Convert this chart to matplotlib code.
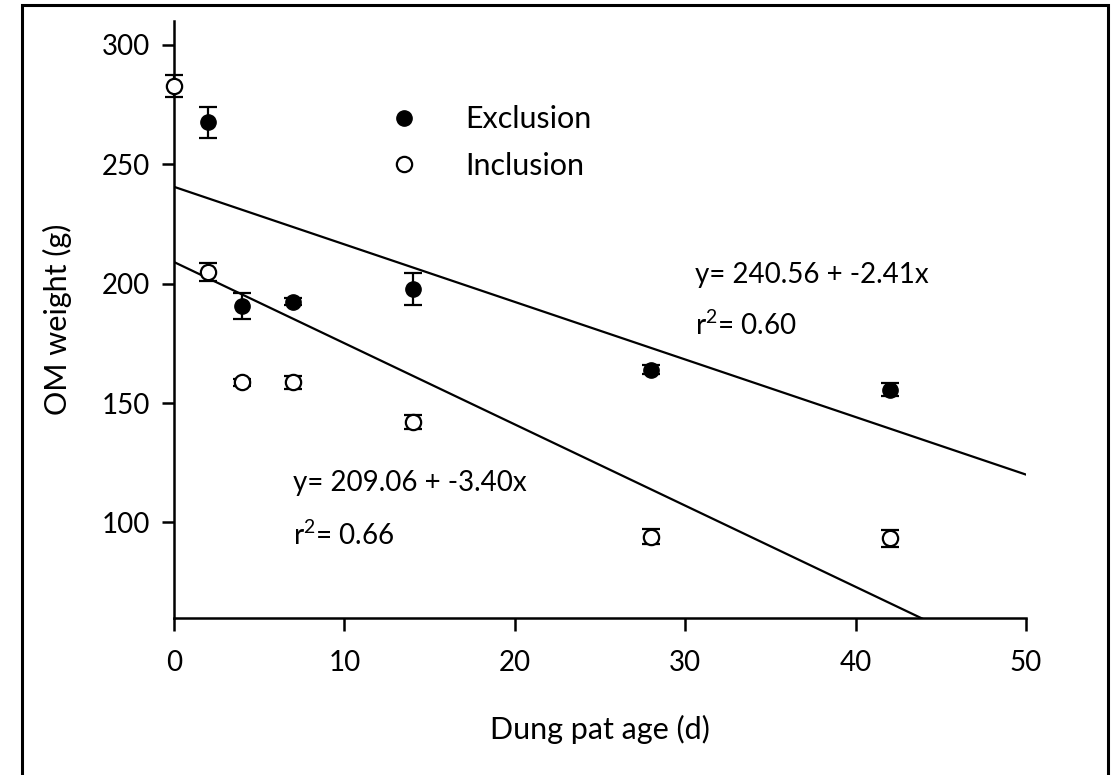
import numpy as np
import matplotlib
matplotlib.use('Agg')
from matplotlib import pyplot as plt
from matplotlib.patches import Rectangle

plt.rcParams['font.family'] = ['Lato', 'DejaVu Sans']
plt.rcParams['mathtext.fontset'] = 'custom'
plt.rcParams['mathtext.rm'] = 'Lato'
plt.rcParams['mathtext.it'] = 'Lato'

#--data---------------------------------------------------------------
excl_days = [2, 4, 7, 14, 28, 42]
excl_weight = [267.5, 190.6, 192.4, 197.9, 164.0, 155.6]
excl_err = [6.3, 5.5, 1.5, 6.7, 2.0, 2.8]

incl_days = [0, 2, 4, 7, 14, 28, 42]
incl_weight = [282.9, 204.9, 158.7, 158.7, 142.1, 94.1, 93.4]
incl_err = [4.6, 3.6, 1.5, 2.8, 3.0, 3.0, 3.6]

excl_fit = (240.56, -2.41, 0.60)
incl_fit = (209.06, -3.40, 0.66)

#--plot---------------------------------------------------------------
fig = plt.figure(figsize=(11.2, 7.75), dpi=100)
ax = fig.add_axes([0.1554, 0.2026, 0.7606, 0.7703])

# figure frame (no bottom edge visible)
fig.patches.append(Rectangle((22/1120, -0.2), 1086/1120, 1.2 - 5/775,
                             transform=fig.transFigure, fill=False,
                             edgecolor='black', linewidth=2.2))

xfit = np.array([0, 50])
for (a, b, r2) in [excl_fit, incl_fit]:
    ax.plot(xfit, a + b*xfit, color='black', linewidth=1.6, zorder=2)

ax.errorbar(excl_days, excl_weight, yerr=excl_err, fmt='o', color='black',
            markerfacecolor='black', markeredgecolor='black', markersize=11,
            elinewidth=1.6, capsize=6.5, capthick=1.6, label='Exclusion', zorder=3)
ax.errorbar(incl_days, incl_weight, yerr=incl_err, fmt='o', color='black',
            markerfacecolor='white', markeredgecolor='black', markersize=11,
            markeredgewidth=1.6, elinewidth=1.6, capsize=6.5, capthick=1.6,
            label='Inclusion', zorder=3, clip_on=False)

ax.text(30.6, 200.1, 'y= %.2f + %.2fx' % (excl_fit[0], excl_fit[1]),
        fontsize=20, va='baseline', ha='left')
ax.text(30.6, 178.3, r'r$^{2}$= %.2f' % excl_fit[2],
        fontsize=20, va='baseline', ha='left')
ax.text(7.0, 113.0, 'y= %.2f + %.2fx' % (incl_fit[0], incl_fit[1]),
        fontsize=20, va='baseline', ha='left')
ax.text(7.0, 90.6, r'r$^{2}$= %.2f' % incl_fit[2],
        fontsize=20, va='baseline', ha='left')

ax.set_xlim(0, 50)
ax.set_ylim(60, 310)
ax.set_xticks([0, 10, 20, 30, 40, 50])
ax.set_yticks([100, 150, 200, 250, 300])
ax.spines['top'].set_visible(False)
ax.spines['right'].set_visible(False)
ax.spines['left'].set_linewidth(1.8)
ax.spines['bottom'].set_linewidth(1.8)
ax.tick_params(direction='out', length=9, width=1.8, labelsize=20, pad=8)
ax.tick_params(axis='x', pad=14)

ax.set_xlabel('Dung pat age (d)', fontsize=22, labelpad=28)
ax.set_ylabel('OM weight (g)', fontsize=22, labelpad=22)

handles, labels = ax.get_legend_handles_labels()
handles = [h[0] for h in handles]
ax.legend(handles, labels, loc='upper left', bbox_to_anchor=(0.22, 0.905),
          frameon=False, fontsize=22, handletextpad=1.5, labelspacing=0.6,
          handlelength=1.0, markerscale=1.0)

plt.savefig('out.png', dpi=100)
